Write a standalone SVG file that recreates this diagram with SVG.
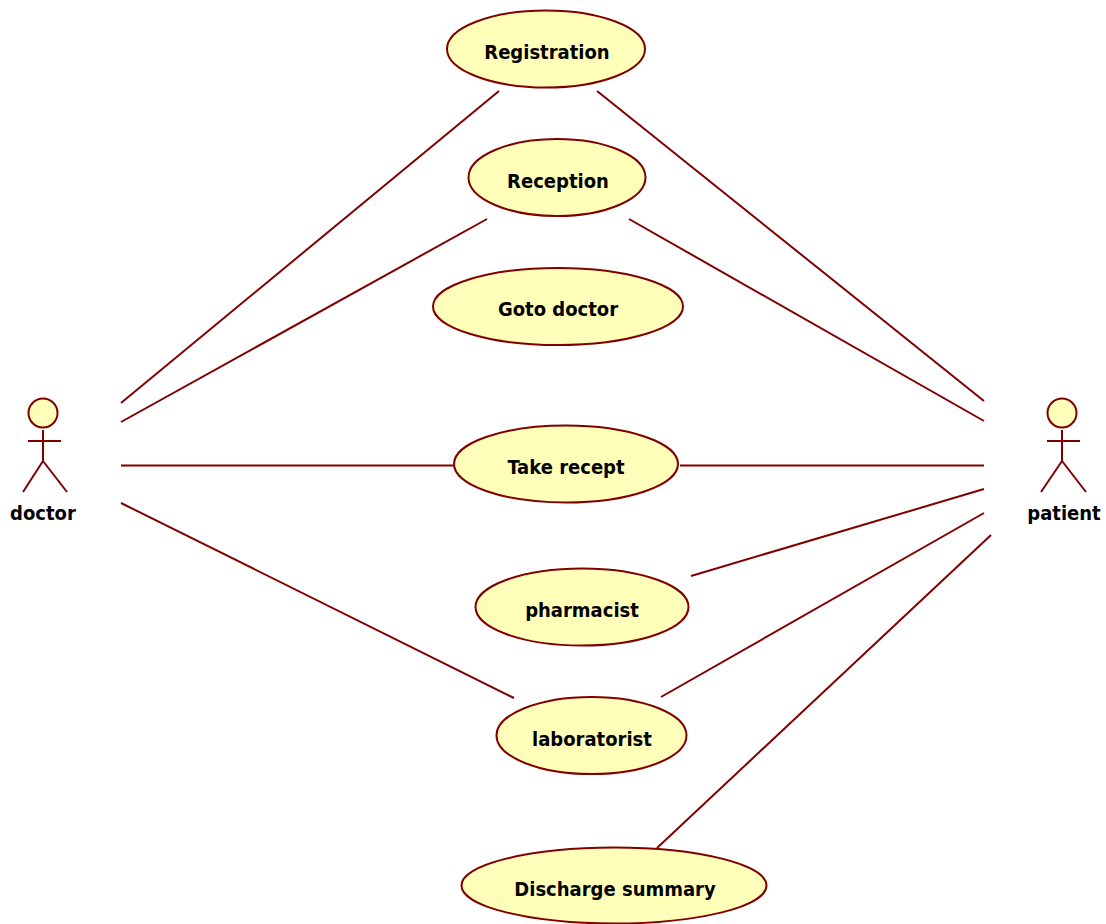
<svg xmlns="http://www.w3.org/2000/svg" width="1106" height="924" viewBox="0 0 1106 924">
<style>
.n{fill:#ffffb9;stroke:#800000;stroke-width:2}
.l{stroke:#800000;stroke-width:2;fill:none}
text{font-family:"DejaVu Sans Condensed","DejaVu Sans",sans-serif;font-stretch:condensed;font-size:20px;font-weight:bold;fill:#000;text-anchor:middle}
</style>
<rect width="1106" height="924" fill="#fff"/>
<g id="connectors" class="l">
<line x1="121" y1="403" x2="499" y2="91"/>
<line x1="121" y1="422" x2="487" y2="219"/>
<line x1="121" y1="465.500" x2="454" y2="465.500"/>
<line x1="121" y1="503" x2="514" y2="698"/>
<line x1="984" y1="401" x2="597" y2="91"/>
<line x1="984" y1="421" x2="629" y2="219"/>
<line x1="984" y1="465.500" x2="680" y2="465.500"/>
<line x1="984" y1="489" x2="691" y2="576"/>
<line x1="984" y1="513" x2="661" y2="697"/>
<line x1="991" y1="535" x2="657" y2="848"/>
</g>
<g id="registration"><ellipse class="n" cx="546" cy="49" rx="99" ry="38.5"/><text x="547" y="59">Registration</text></g>
<g id="reception"><ellipse class="n" cx="557" cy="177.500" rx="88.500" ry="38.500"/><text x="558" y="188">Reception</text></g>
<g id="goto-doctor"><ellipse class="n" cx="558" cy="306.500" rx="125" ry="38.500"/><text x="558" y="316">Goto doctor</text></g>
<g id="take-recept"><ellipse class="n" cx="566" cy="464" rx="112" ry="38.500"/><text x="566" y="474">Take recept</text></g>
<g id="pharmacist"><ellipse class="n" cx="582" cy="607" rx="106.500" ry="38.500"/><text x="582" y="617">pharmacist</text></g>
<g id="laboratorist"><ellipse class="n" cx="591.500" cy="735.500" rx="95" ry="38.500"/><text x="592" y="746">laboratorist</text></g>
<g id="discharge-summary"><ellipse class="n" cx="614" cy="885.500" rx="152.500" ry="38"/><text x="615" y="896">Discharge summary</text></g>
<g id="doctor" class="n"><circle cx="43" cy="413" r="14.500"/><path class="l" d="M43 430V461M28 441H61M43 461L23 492M43 461L67 492"/><text x="43" y="520" style="stroke:none;fill:#000">doctor</text></g>
<g id="patient" class="n"><circle cx="1062" cy="413" r="14.500"/><path class="l" d="M1062 430V461M1047 441H1080M1062 461L1041 492M1062 461L1086 492"/><text x="1064" y="520" style="stroke:none;fill:#000">patient</text></g>
</svg>
